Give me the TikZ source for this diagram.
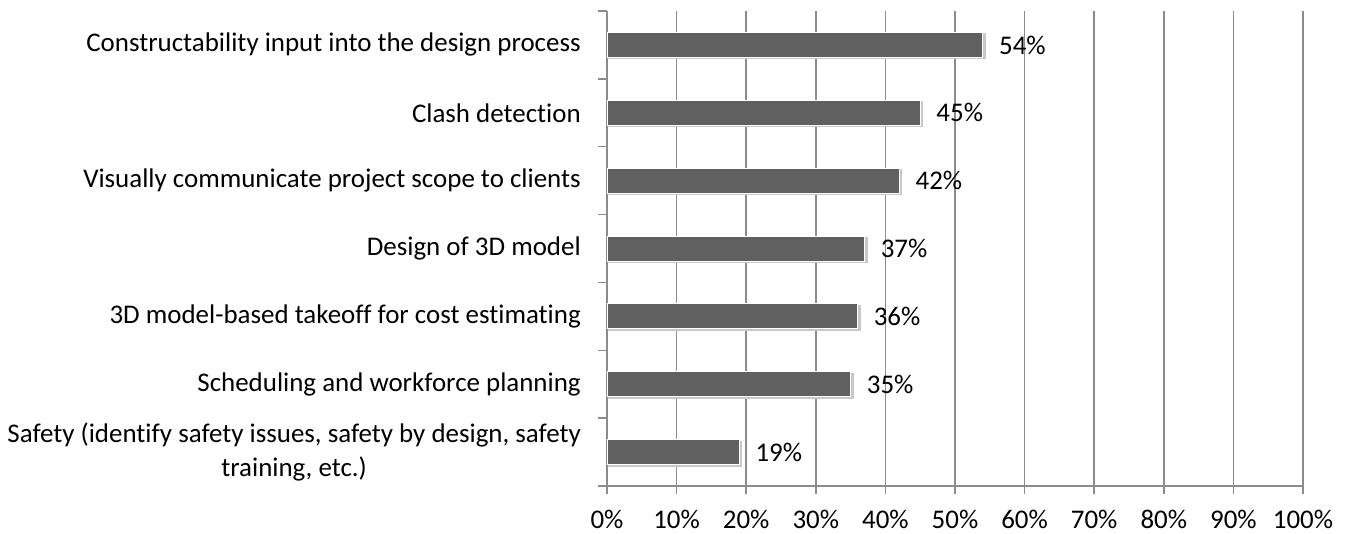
\documentclass[tikz,border=0pt]{standalone}
\usepackage{fontspec}
\setmainfont[Ligatures=NoCommon]{Carlito}
\definecolor{barfill}{HTML}{606060}
\definecolor{gridc}{HTML}{8C8C8C}
\definecolor{shadowc}{HTML}{C8C8C8}
\tikzset{
  grid line/.style={draw=gridc, line width=1.1pt},
  axis line/.style={draw=gridc, line width=1.1pt},
  bar/.style={fill=barfill, draw=white, line width=0.6pt},
  bar shadow/.style={fill=shadowc},
  cat label/.style={anchor=east, inner sep=0pt, align=center},
  val label/.style={anchor=west, inner sep=0pt},
  tick label/.style={anchor=base, inner sep=0pt},
}
\begin{document}
\begin{tikzpicture}[x=0.75pt, y=-0.75pt, font=\fontsize{20.2}{25}\selectfont]
\useasboundingbox (0,0) rectangle (1349,533);
% plot area geometry: 0% at x=607, 100% at x=1303, rows between y=11 and y=486
\def\xz{607}
\def\xs{6.96}
\def\ytop{11}
\def\ybot{486}
\def\rowh{67.857}
% vertical grid lines
\foreach \k in {1,...,10}{
  \draw[grid line] ({\xz+\k*10*\xs},\ytop) -- ({\xz+\k*10*\xs},{\ybot+8});
}
% axes
\coordinate (origin) at (\xz,\ybot);
\draw[axis line] (\xz,\ytop) -- (\xz,{\ybot+8});
\draw[axis line] ({\xz-9},\ybot) -- ({\xz+100*\xs},\ybot);
% category ticks on the vertical axis
\foreach \k in {0,...,6}{
  \draw[axis line] ({\xz-9},{\ytop+\k*\rowh}) -- (\xz,{\ytop+\k*\rowh});
}
% horizontal axis labels
\foreach \k in {0,...,10}{
  \pgfmathtruncatemacro{\pc}{\k*10}
  \node[tick label] (xl\k) at ({\xz+\k*10*\xs},528) {\pc\%};
}
% bars with shadow and value labels
\foreach \i/\v in {1/54,2/45,3/42,4/37,5/36,6/35,7/19}{
  \pgfmathsetmacro{\yc}{\ytop+(\i-0.5)*\rowh}
  \fill[bar shadow] ({\xz+1},{\yc-11.5}) rectangle ({\xz+\v*\xs+3},{\yc+14.5});
  \draw[bar] (\xz,{\yc-12.5}) rectangle ({\xz+\v*\xs},{\yc+12.5});
  \node[val label] (v\i) at ({\xz+\v*\xs+16},\yc) {\v\%};
}
% category labels
\node[cat label] (c1) at (581,{\ytop+0.5*\rowh}) {Constructability input into the design process};
\node[cat label] (c2) at (581,{\ytop+1.5*\rowh}) {Clash detection};
\node[cat label] (c3) at (581,{\ytop+2.5*\rowh}) {Visually communicate project scope to clients};
\node[cat label] (c4) at (581,{\ytop+3.5*\rowh}) {Design of 3D model};
\node[cat label] (c5) at (581,{\ytop+4.5*\rowh}) {3D model-based takeoff for cost estimating};
\node[cat label] (c6) at (581,{\ytop+5.5*\rowh}) {Scheduling and workforce planning};
\node[cat label] (c7) at (581,{\ytop+6.5*\rowh}) {Safety (identify safety issues, safety by design, safety\\training, etc.)};
\end{tikzpicture}
\end{document}
